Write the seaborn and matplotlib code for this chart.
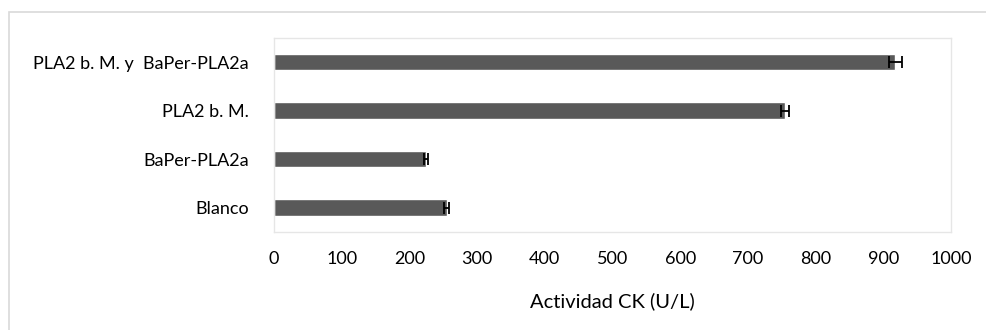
import pandas as pd
import matplotlib.pyplot as plt
import matplotlib.patches as mpatches
import seaborn as sns

# datos
grupos = ['PLA2 b. M. y  BaPer-PLA2a', 'PLA2 b. M.', 'BaPer-PLA2a', 'Blanco']
actividad = [918, 755, 224, 255]
error = [10, 6, 3, 4]

df = pd.DataFrame({'grupo': grupos, 'ck': actividad, 'err': error})

sns.set_style('white')
plt.rcParams['font.family'] = ['Lato', 'DejaVu Sans']

fig = plt.figure(figsize=(9.87, 3.3), dpi=100)
ax = fig.add_axes([0.2776, 0.297, 0.6859, 0.588])

# borde exterior del grafico
fig.patches.append(mpatches.Rectangle((9 / 987, -0.1), 1.2, 1.1 - 12 / 330,
                                      transform=fig.transFigure, fill=False,
                                      edgecolor='#d9d9d9', linewidth=1.2))

sns.barplot(data=df, x='ck', y='grupo', orient='h', color='#595959',
            width=0.34, saturation=1, ax=ax)
ax.errorbar(df['ck'], range(len(df)), xerr=df['err'], fmt='none',
            ecolor='black', elinewidth=1.3, capsize=4, capthick=1.3)

ax.set_xlim(0, 1000)
ax.set_ylim(3.5, -0.5)
ax.set_xticks(range(0, 1001, 100))
ax.set_xlabel('Actividad CK (U/L)', fontsize=14.5, color='black', labelpad=18)
ax.set_ylabel('')
ax.tick_params(axis='both', length=0, labelsize=13, colors='black')
ax.tick_params(axis='x', pad=14)
ax.tick_params(axis='y', pad=18)
for s in ax.spines.values():
    s.set_color('#e6e6e6')
    s.set_linewidth(1)

fig.savefig('out.png', dpi=100)
